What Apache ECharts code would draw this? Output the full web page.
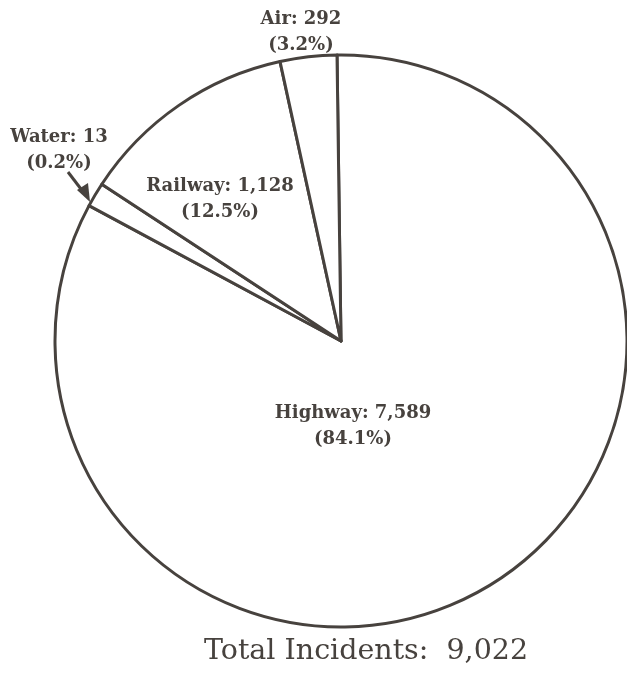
<!DOCTYPE html>
<html>
<head>
<meta charset="utf-8">
<script src="https://cdn.jsdelivr.net/npm/echarts@6/dist/echarts.min.js"></script>
<style>
html,body{margin:0;padding:0;background:#fff;}
#chart{width:627px;height:677px;}
</style>
</head>
<body>
<div id="chart"></div>
<script>
var categories = ['Highway', 'Water', 'Railway', 'Air'];
var incidents = [7589, 13, 1128, 292];
var percents = ['84.1%', '0.2%', '12.5%', '3.2%'];
var totalIncidents = '9,022';

function fmt(n){ return n.toString().replace(/\B(?=(\d{3})+(?!\d))/g, ','); }

var INK = '#47423e';
var labelPos = [
  {x: 353, y: 426},
  {x: 59, y: 150},
  {x: 220, y: 199},
  {x: 301, y: 32}
];

var chart = echarts.init(document.getElementById('chart'));
chart.setOption({
  backgroundColor: '#ffffff',
  animation: false,
  title: {
    text: 'Total Incidents:  ' + totalIncidents,
    left: 361,
    top: 632,
    textAlign: 'center',
    textStyle: {fontFamily: 'DejaVu Serif', fontSize: 28.5, fontWeight: 'normal', color: INK}
  },
  series: [{
    type: 'pie',
    center: [341, 341],
    radius: [0, 286],
    startAngle: 90.8,
    clockwise: true,
    minAngle: 5,
    avoidLabelOverlap: false,
    emphasis: {disabled: true},
    itemStyle: {color: '#ffffff', borderColor: INK, borderWidth: 3},
    labelLine: {show: false},
    label: {
      show: true,
      position: 'inside',
      fontFamily: 'DejaVu Serif',
      fontWeight: 'bold',
      fontSize: 18,
      lineHeight: 26,
      color: INK,
      formatter: function (p) {
        return p.name + ': ' + fmt(p.value) + '\n(' + percents[p.dataIndex] + ')';
      }
    },
    labelLayout: function (p) {
      var lp = labelPos[p.dataIndex];
      return {x: lp.x, y: lp.y, align: 'center', verticalAlign: 'middle'};
    },
    data: categories.map(function (c, i) { return {name: c, value: incidents[i]}; })
  }],
  graphic: [
    {type: 'line', shape: {x1: 68, y1: 172, x2: 84, y2: 193}, style: {stroke: INK, lineWidth: 3}},
    {type: 'polygon', shape: {points: [[90, 202], [77, 190], [88, 183]]}, style: {fill: INK}}
  ]
});
</script>
</body>
</html>
